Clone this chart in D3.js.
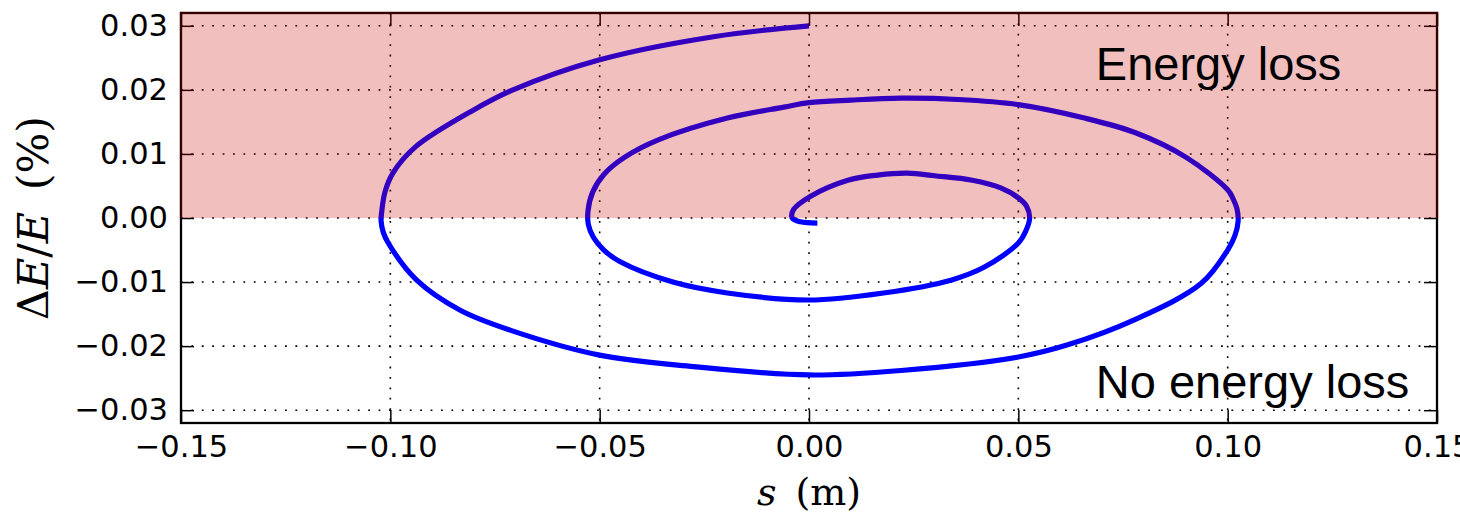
<!DOCTYPE html>
<html>
<head>
<meta charset="utf-8">
<script src="https://cdn.jsdelivr.net/npm/d3@7"></script>
<style>
  body { margin: 0; background: #fff; }
  svg { display: block; }
</style>
</head>
<body>
<svg id="chart" width="1460" height="515"></svg>
<script>

// spiral, in path order (s in m, dE/E in %)
var spiralS = [
	0.000, -0.0228, -0.050, -0.0707, -0.080, -0.0940, -0.0994, -0.1013, -0.1020,
	-0.1022, -0.1017, -0.1005, -0.0937, -0.0833, -0.0714, -0.050, -0.0276, 0.000,
	0.022, 0.050, 0.0618, 0.0777, 0.0937, 0.1000, 0.1017, 0.1025, 0.1022,
	0.1013, 0.1000, 0.0900, 0.0780, 0.0658, 0.050, 0.0356, 0.0219, 0.0100,
	0.000, -0.006, -0.0195, -0.0360, -0.0440, -0.0490, -0.0517, -0.0528, -0.0527,
	-0.0515, -0.0490, -0.0452, -0.0325, -0.0195, 0.000, 0.0178, 0.0339, 0.0418,
	0.050, 0.0518, 0.0527, 0.0520, 0.0501, 0.0458, 0.0390, 0.0300, 0.0235,
	0.0164, 0.0093, 0.0004, -0.0037, -0.0040, -0.0020, 0.0020
];
var spiralDE = [
	0.0300, 0.0283, 0.0247, 0.0200, 0.0169, 0.0111, 0.0070, 0.0040, 0.0013,
	-0.0005, -0.0022, -0.0039, -0.0097, -0.0144, -0.0175, -0.0214, -0.0232, -0.0245,
	-0.0238, -0.0217, -0.0198, -0.0159, -0.0102, -0.0050, -0.0028, -0.0005, 0.0015,
	0.0030, 0.0044, 0.0095, 0.0133, 0.0156, 0.0177, 0.0185, 0.0187, 0.0184,
	0.0180, 0.0173, 0.0156, 0.0122, 0.0095, 0.0068, 0.0040, 0.0010, -0.0010,
	-0.0030, -0.0050, -0.0068, -0.0100, -0.0117, -0.0128, -0.0117, -0.0097, -0.0077,
	-0.0039, -0.0020, 0.0000, 0.0018, 0.0031, 0.0047, 0.0059, 0.0066, 0.0070,
	0.0067, 0.0059, 0.0034, 0.0013, 0.0000, -0.0006, -0.0008
];

var xTicks = [-0.15, -0.10, -0.05, 0.00, 0.05, 0.10, 0.15];
var yTicks = [-0.03, -0.02, -0.01, 0.00, 0.01, 0.02, 0.03];
var xDomain = [-0.15, 0.15];
var yDomain = [-0.032, 0.032];
var lossBand = [0, 0.032];

var margin = {top: 13, left: 181, right: 23, bottom: 92};
var W = 1460, H = 515;
var w = W - margin.left - margin.right;
var h = H - margin.top - margin.bottom;

var svg = d3.select("#chart");
var g = svg.append("g")
	.attr("transform", "translate(" + margin.left + "," + margin.top + ")");

var x = d3.scaleLinear().domain(xDomain).range([0, w]);
var y = d3.scaleLinear().domain(yDomain).range([h, 0]);

var tickFont = "'DejaVu Sans', sans-serif";
var fmt = d3.format(".2f");

//dotted grid
g.selectAll("line.vgrid")
	.data(xTicks)
	.enter()
	.append("line")
	.attr("class", "vgrid")
	.attr("x1", d => x(d)).attr("x2", d => x(d))
	.attr("y1", 0).attr("y2", h)
	.attr("stroke", "#000")
	.attr("stroke-width", 1.6)
	.attr("stroke-dasharray", "1.8,8.6");

g.selectAll("line.hgrid")
	.data(yTicks)
	.enter()
	.append("line")
	.attr("class", "hgrid")
	.attr("x1", 0).attr("x2", w)
	.attr("y1", d => y(d)).attr("y2", d => y(d))
	.attr("stroke", "#000")
	.attr("stroke-width", 1.6)
	.attr("stroke-dasharray", "1.8,8.6");

//the spiral
var line = d3.line()
	.curve(d3.curveCatmullRom.alpha(0.5))
	.x(d => x(d[0]))
	.y(d => y(d[1]));

var pts = spiralS.map((s, i) => [s, spiralDE[i]]);

g.append("path")
	.datum(pts)
	.attr("d", line)
	.attr("fill", "none")
	.attr("stroke", "#0000ff")
	.attr("stroke-width", 5.2)
	.attr("stroke-linejoin", "round")
	.attr("stroke-linecap", "butt");

//axes, ticks inside on all four sides
function styleAxis(sel) {
	sel.select(".domain").remove();
	sel.selectAll(".tick line").attr("stroke", "#000").attr("stroke-width", 1.5);
	sel.selectAll(".tick text")
		.attr("fill", "#000")
		.style("font-family", tickFont)
		.style("font-size", "30.5px");
}

g.append("g")
	.attr("transform", "translate(0," + h + ")")
	.call(d3.axisBottom(x).tickValues(xTicks).tickSize(-13).tickPadding(12).tickFormat(fmt))
	.call(styleAxis);

g.append("g")
	.call(d3.axisTop(x).tickValues(xTicks).tickSize(-13).tickFormat(""))
	.call(styleAxis);

g.append("g")
	.call(d3.axisLeft(y).tickValues(yTicks).tickSize(-13).tickPadding(13).tickFormat(fmt))
	.call(styleAxis);

g.append("g")
	.attr("transform", "translate(" + w + ",0)")
	.call(d3.axisRight(y).tickValues(yTicks).tickSize(-13).tickFormat(""))
	.call(styleAxis);

g.append("rect")
	.attr("x", 0).attr("y", 0)
	.attr("width", w).attr("height", h)
	.attr("fill", "none")
	.attr("stroke", "#000")
	.attr("stroke-width", 2.3);

//energy loss band drawn over everything (translucent)
g.append("rect")
	.attr("x", -1.5)
	.attr("y", y(lossBand[1]) - 1.5)
	.attr("width", w + 3)
	.attr("height", y(lossBand[0]) - y(lossBand[1]) + 1.5)
	.attr("fill", "rgb(204,0,0)")
	.attr("opacity", 0.25);

//annotations
g.append("text")
	.attr("x", x(0.0685)).attr("y", y(0.02156))
	.style("font-family", "'Liberation Sans', Arial, sans-serif")
	.style("font-size", "47px")
	.attr("fill", "#000")
	.text("Energy loss");

g.append("text")
	.attr("x", x(0.0685)).attr("y", y(-0.0281))
	.style("font-family", "'Liberation Sans', Arial, sans-serif")
	.style("font-size", "47px")
	.attr("fill", "#000")
	.text("No energy loss");

//axis labels
var mathFont = "'DejaVu Serif', 'Liberation Serif', serif";

var xl = svg.append("text")
	.attr("x", margin.left + x(0))
	.attr("y", 505)
	.attr("text-anchor", "middle")
	.style("font-family", mathFont)
	.style("font-size", "38px")
	.attr("fill", "#000");
xl.append("tspan").style("font-style", "italic").text("s");
xl.append("tspan").text("\u2002(m)");

var yl = svg.append("text")
	.attr("transform", "translate(48," + (margin.top + y(0)) + ") rotate(-90)")
	.attr("text-anchor", "middle")
	.style("font-family", mathFont)
	.style("font-size", "43px")
	.attr("fill", "#000");
yl.append("tspan").text("\u0394");
yl.append("tspan").style("font-style", "italic").text("E");
yl.append("tspan").text("/");
yl.append("tspan").style("font-style", "italic").text("E");
yl.append("tspan").text("\u2002(%)");

</script>
</body>
</html>
